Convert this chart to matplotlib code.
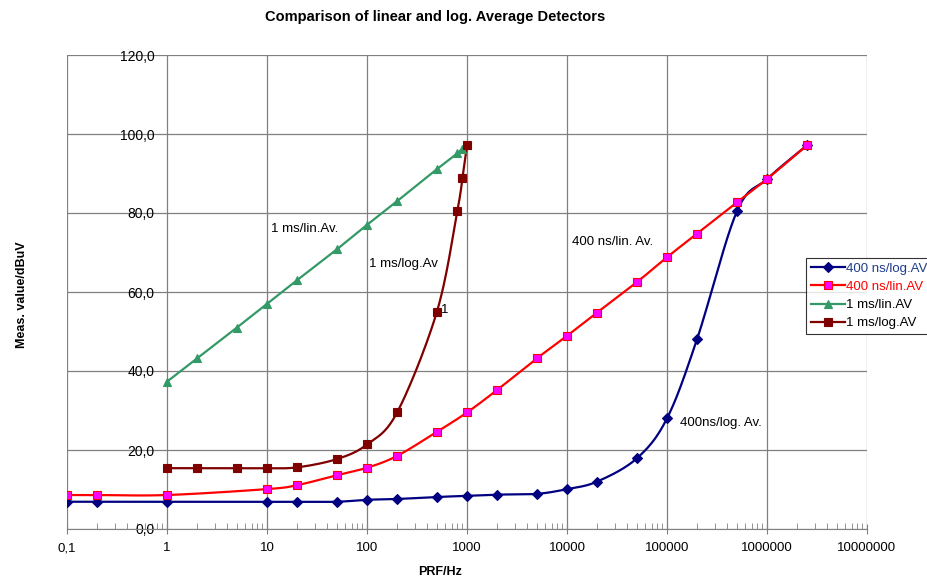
import numpy as np
import matplotlib
matplotlib.use("Agg")
import matplotlib.pyplot as plt
from matplotlib.lines import Line2D
from matplotlib.ticker import FixedLocator, LogLocator, NullFormatter

plt.rcParams['font.family'] = ['Liberation Sans', 'DejaVu Sans']

# ------------------------------
# Datos
# ------------------------------

prf_400ns = [0.1, 0.2, 1, 10, 20, 50, 100, 200, 500, 1000, 2000, 5000,
             10000, 20000, 50000, 100000, 200000, 500000, 1000000, 2500000]
val_400ns_log = [6.9, 6.9, 6.9, 6.9, 6.9, 6.9, 7.4, 7.6, 8.1, 8.4, 8.7, 8.9,
                 10.1, 12.0, 17.9, 28.0, 48.1, 80.4, 88.6, 97.1]
val_400ns_lin = [8.6, 8.6, 8.6, 10.1, 11.1, 13.6, 15.5, 18.5, 24.6, 29.5, 35.2, 43.2,
                 48.9, 54.8, 62.5, 68.8, 74.8, 82.7, 88.6, 97.1]

prf_1ms = [1, 2, 5, 10, 20, 50, 100, 200, 500, 800, 900, 1000]
val_1ms_lin = [37.3, 43.2, 51.0, 57.0, 63.0, 70.8, 77.0, 83.0, 91.1, 95.1, 96.2, 97.1]
val_1ms_log = [15.4, 15.4, 15.4, 15.4, 15.6, 17.7, 21.4, 29.5, 55.0, 80.5, 88.9, 97.1]

labels = ["400 ns/log.AV", "400 ns/lin.AV", "1 ms/lin.AV", "1 ms/log.AV"]
y_ticks = [0, 20, 40, 60, 80, 100, 120]
x_ticks = [0.1, 1, 10, 100, 1000, 10000, 100000, 1000000, 10000000]
x_ticklabels = ["0,1", "1", "10", "100", "1000", "10000", "100000", "1000000", "10000000"]


def suavizar(xs, ys, n=25):
    """Curva suavizada tipo Excel (Bezier/Catmull-Rom en espacio de pantalla)."""
    pts = np.column_stack([(np.log10(xs) + 1) * 100, np.array(ys) * 3.95])
    out = []
    for i in range(len(pts) - 1):
        p0 = pts[max(i - 1, 0)]
        p1 = pts[i]
        p2 = pts[i + 1]
        p3 = pts[min(i + 2, len(pts) - 1)]
        c1 = p1 + (p2 - p0) / 6
        c2 = p2 - (p3 - p1) / 6
        t = np.linspace(0, 1, n)[:, None]
        seg = (1 - t) ** 3 * p1 + 3 * (1 - t) ** 2 * t * c1 + 3 * (1 - t) * t ** 2 * c2 + t ** 3 * p2
        out.append(seg if i == 0 else seg[1:])
    out = np.vstack(out)
    return 10 ** (out[:, 0] / 100 - 1), out[:, 1] / 3.95


fig = plt.figure(figsize=(9.28, 5.81), dpi=100)
ax = fig.add_axes([67 / 928, 1 - 529 / 581, 800 / 928, 474 / 581])

series = [
    (prf_400ns, val_400ns_log, '#000080', 'D', '#000080', '#000080', 5.5, True),
    (prf_400ns, val_400ns_lin, '#ff0000', 's', '#ff00ff', '#ff0000', 5.5, True),
    (prf_1ms, val_1ms_lin, '#339966', '^', '#339966', '#339966', 6, False),
    (prf_1ms, val_1ms_log, '#800000', 's', '#800000', '#800000', 5.5, True),
]

handles = []
for (xs, ys, col, mk, mfc, mec, ms, smooth), lab in zip(series, labels):
    if smooth:
        sx, sy = suavizar(xs, ys)
    else:
        sx, sy = xs, ys
    ax.plot(sx, sy, color=col, lw=1.6, zorder=3)
    ax.plot(xs, ys, ls='none', marker=mk, ms=ms, mfc=mfc, mec=mec, mew=0.8, zorder=4)
    handles.append(Line2D([], [], color=col, lw=1.6, marker=mk, ms=ms,
                          mfc=mfc, mec=mec, mew=0.8))

ax.set_xscale('log')
ax.set_xlim(0.1, 1e7)
ax.set_ylim(0, 120)

ax.xaxis.set_major_locator(FixedLocator(x_ticks))
ax.set_xticklabels(x_ticklabels, fontsize=9.5)
ax.xaxis.set_minor_locator(LogLocator(base=10, subs=np.arange(2, 10)))
ax.xaxis.set_minor_formatter(NullFormatter())
ax.tick_params(axis='x', which='major', direction='inout', length=7, color='#808080', pad=6)
ax.tick_params(axis='x', which='minor', direction='in', length=4, color='#808080')

ax.set_yticks(y_ticks)
ax.set_yticklabels([f"{v:.1f}".replace('.', ',') for v in y_ticks], fontsize=9.5)
ax.spines['left'].set_position(('data', 1))
ax.tick_params(axis='y', length=0, pad=9)

for s in ['top', 'right', 'left']:
    ax.spines[s].set_visible(False)
ax.spines['bottom'].set_color('#808080')

ax.grid(True, which='major', color='#808080', lw=0.9)
ax.set_axisbelow(True)

# textos dentro del gráfico
ax.text(10.9, 75.9, "1 ms/lin.Av.", fontsize=9.5, va='center')
ax.text(105, 67.1, "1 ms/log.Av", fontsize=9.5, va='center')
ax.text(545, 55.4, "1", fontsize=9.5, va='center')
ax.text(11140, 72.7, "400 ns/lin. Av.", fontsize=9.5, va='center')
ax.text(134900, 26.8, "400ns/log. Av.", fontsize=9.5, va='center')

fig.text(435 / 928, 1 - 17 / 581, "Comparison of linear and log. Average Detectors",
         ha='center', va='center', fontsize=10.5, fontweight='bold')
fig.text(440 / 928, 1 - 572 / 581, "PRF/Hz", ha='center', va='center',
         fontsize=9, fontweight='bold')
fig.text(22 / 928, 1 - 295 / 581, "Meas. value/dBuV", ha='center', va='center',
         rotation=90, fontsize=9, fontweight='bold')

leg = fig.legend(handles, labels, loc='upper left',
                 bbox_to_anchor=(806 / 928, 1 - 258 / 581), bbox_transform=fig.transFigure,
                 fontsize=9.5, frameon=True, fancybox=False, edgecolor='black',
                 handlelength=2.6, handletextpad=0.1, labelspacing=0.45,
                 borderpad=0.35, borderaxespad=0)
leg.get_frame().set_linewidth(0.8)
text_colors = ['#1f3d8f', '#ff0000', 'black', 'black']
for t, c in zip(leg.get_texts(), text_colors):
    t.set_color(c)

fig.savefig("out.png", dpi=100)
